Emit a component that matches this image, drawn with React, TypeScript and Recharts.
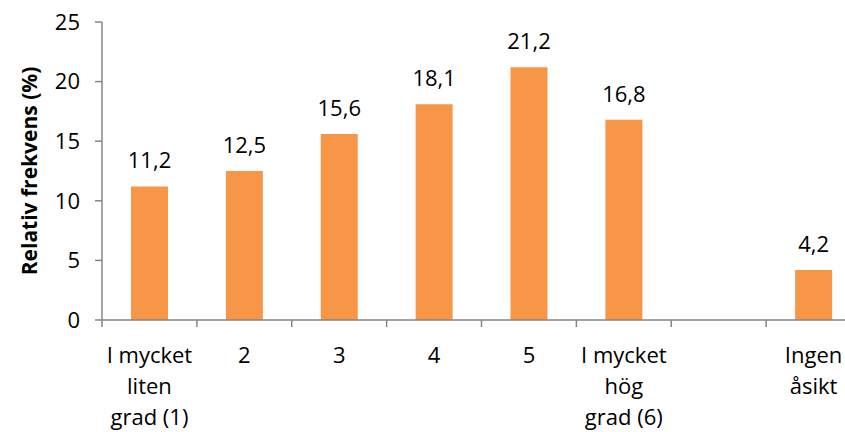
import React from "react";
import { BarChart, Bar, XAxis, YAxis, LabelList } from "recharts";

const categories = [
  "I mycket\nliten\ngrad (1)",
  "2",
  "3",
  "4",
  "5",
  "I mycket\nhög\ngrad (6)",
  "",
  "Ingen\nåsikt",
];
const values: (number | null)[] = [11.2, 12.5, 15.6, 18.1, 21.2, 16.8, null, 4.2];
const yTicks = [0, 5, 10, 15, 20, 25];
const yLabel = "Relativ frekvens (%)";

const data = categories.map((c, i) => ({ name: c, value: values[i] }));

const FONT = "'Open Sans', sans-serif";
const AXIS = "#868686";
const TEXT = "#000000";
const FS = 22;

const XTick = (props: any) => {
  const { x, y, payload, width, index } = props;
  const n = categories.length;
  const half = (width || 759) / n / 2;
  const lines = String(payload.value).split("\n");
  return (
    <g>
      <line x1={x - half} x2={x - half} y1={y} y2={y + 7} stroke={AXIS} strokeWidth={1.5} />
      {index === n - 1 && (
        <line x1={x + half} x2={x + half} y1={y} y2={y + 7} stroke={AXIS} strokeWidth={1.5} />
      )}
      <text x={x} y={y} textAnchor="middle" fontSize={FS} fontFamily={FONT} fill={TEXT}>
        {lines.map((l, i) => (
          <tspan key={i} x={x} y={y + 43 + i * 31}>
            {l}
          </tspan>
        ))}
      </text>
    </g>
  );
};

const YLabel = (props: any) => {
  const vb = props.viewBox || {};
  const cy = (vb.y ?? 22) + (vb.height ?? 298) / 2;
  const cx = 29;
  return (
    <text
      x={cx}
      y={cy}
      transform={`rotate(-90 ${cx} ${cy})`}
      textAnchor="middle"
      dominantBaseline="central"
      fontSize={21}
      fontWeight="bold"
      fontFamily={FONT}
      fill={TEXT}
    >
      {yLabel}
    </text>
  );
};

export default function App() {
  return (
    <div
      style={{
        position: "fixed",
        left: 0,
        top: 0,
        width: 845,
        height: 432,
        overflow: "hidden",
        background: "#fff",
      }}
    >
      <BarChart
        width={870}
        height={432}
        data={data}
        margin={{ top: 22, right: 9, bottom: 0, left: 0 }}
        barSize={37}
      >
        <XAxis
          dataKey="name"
          interval={0}
          tickLine={false}
          tickSize={0}
          tickMargin={0}
          axisLine={{ stroke: AXIS, strokeWidth: 1.5 }}
          tick={<XTick />}
          height={112}
        />
        <YAxis
          width={102}
          domain={[0, 25]}
          ticks={yTicks}
          interval={0}
          tickSize={7}
          tickMargin={15}
          tickLine={{ stroke: AXIS, strokeWidth: 1.5 }}
          axisLine={{ stroke: AXIS, strokeWidth: 1.5 }}
          tick={{ fontSize: FS, fontFamily: FONT, fill: TEXT }}
          label={<YLabel />}
        />
        <Bar dataKey="value" fill="#F79646" isAnimationActive={false}>
          <LabelList
            dataKey="value"
            position="top"
            offset={18}
            style={{ fontSize: FS, fontFamily: FONT, fill: TEXT }}
            formatter={(v: any) => (v == null ? "" : String(v).replace(".", ","))}
          />
        </Bar>
      </BarChart>
    </div>
  );
}
